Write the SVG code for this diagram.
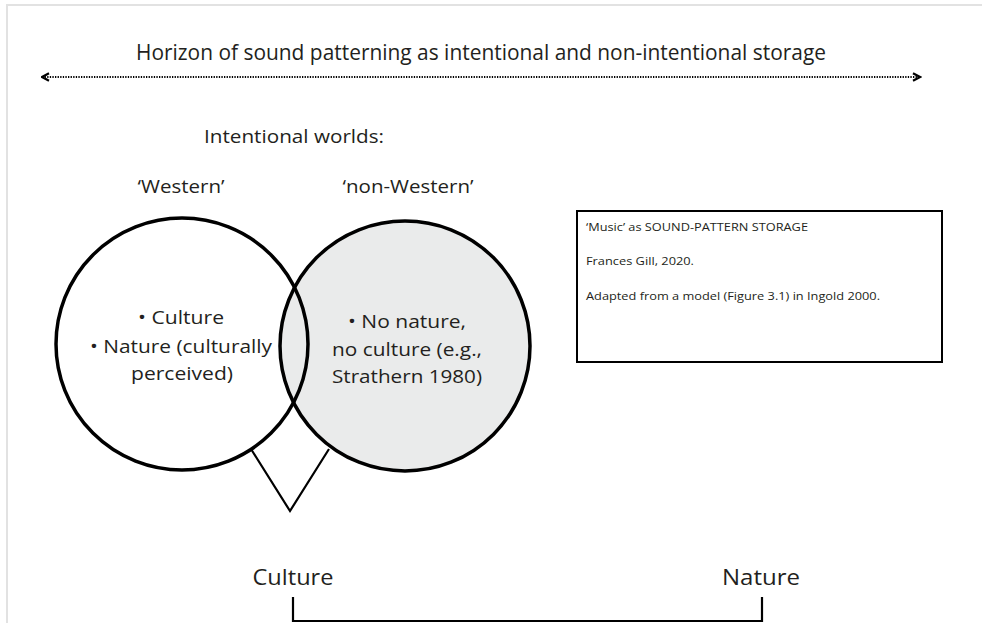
<svg xmlns="http://www.w3.org/2000/svg" width="982" height="623" viewBox="0 0 982 623">
  <defs>
    <style>
      .t { font-family: "Open Sans", "Liberation Sans", "DejaVu Sans", sans-serif; fill: #231f20; }
      .big { font-size: 19px; }
      .small { font-size: 11.5px; }
      .line { stroke: #000; fill: none; }
    </style>
    <marker id="chevL" viewBox="0 0 10 10" refX="1.5" refY="5" markerWidth="10" markerHeight="10" markerUnits="userSpaceOnUse" orient="auto">
      <path d="M8.5,1.2 L1.5,5 L8.5,8.8" fill="none" stroke="#000" stroke-width="2.2"/>
    </marker>
    <marker id="chevR" viewBox="0 0 10 10" refX="8.5" refY="5" markerWidth="10" markerHeight="10" markerUnits="userSpaceOnUse" orient="auto">
      <path d="M1.5,1.2 L8.5,5 L1.5,8.8" fill="none" stroke="#000" stroke-width="2.2"/>
    </marker>
  </defs>
  <rect width="982" height="623" fill="#fff"/>
  <path d="M7,623 V5 H982" fill="none" stroke="#e2e2e2" stroke-width="2"/>

  <g id="title">
    <text class="t" x="136" y="60" font-size="21" textLength="690" lengthAdjust="spacingAndGlyphs">Horizon of sound patterning as intentional and non-intentional storage</text>
  </g>

  <g id="connectors">
    <line class="line" x1="42" y1="77" x2="920" y2="77" stroke-width="1.8" stroke-dasharray="1.3,1.3" marker-start="url(#chevL)" marker-end="url(#chevR)"/>
    <polyline class="line" points="251,449 290,511 329,449" stroke-width="2.2"/>
    <polyline class="line" points="293,597 293,621 762,621 762,597" stroke-width="2.2"/>
  </g>

  <g id="intentional-worlds">
    <text class="t big" x="204" y="143" textLength="180" lengthAdjust="spacingAndGlyphs">Intentional worlds:</text>
  </g>

  <g id="non-western">
    <circle cx="405" cy="346" r="125" fill="#eaebeb" stroke="#000" stroke-width="3.5"/>
    <text class="t big" x="408" y="193" text-anchor="middle" textLength="131" lengthAdjust="spacingAndGlyphs">‘non-Western’</text>
    <text class="t big" x="407" y="328" text-anchor="middle" textLength="118" lengthAdjust="spacingAndGlyphs">• No nature,</text>
    <text class="t big" x="407" y="356" text-anchor="middle" textLength="150" lengthAdjust="spacingAndGlyphs">no culture (e.g.,</text>
    <text class="t big" x="407" y="383" text-anchor="middle" textLength="150" lengthAdjust="spacingAndGlyphs">Strathern 1980)</text>
  </g>

  <g id="western">
    <circle cx="182" cy="344" r="126" fill="none" stroke="#000" stroke-width="3.5"/>
    <text class="t big" x="181" y="193" text-anchor="middle" textLength="87" lengthAdjust="spacingAndGlyphs">‘Western’</text>
    <text class="t big" x="181" y="324" text-anchor="middle" textLength="86" lengthAdjust="spacingAndGlyphs">• Culture</text>
    <text class="t big" x="181" y="353" text-anchor="middle" textLength="182" lengthAdjust="spacingAndGlyphs">• Nature (culturally</text>
    <text class="t big" x="182" y="380" text-anchor="middle" textLength="102" lengthAdjust="spacingAndGlyphs">perceived)</text>
  </g>

  <g id="info-box">
    <rect x="577" y="211" width="365" height="151" fill="#fff" stroke="#000" stroke-width="2"/>
    <text class="t small" x="586" y="231" textLength="222" lengthAdjust="spacingAndGlyphs">‘Music’ as SOUND-PATTERN STORAGE</text>
    <text class="t small" x="586" y="265" textLength="108" lengthAdjust="spacingAndGlyphs">Frances Gill, 2020.</text>
    <text class="t small" x="586" y="300" textLength="294" lengthAdjust="spacingAndGlyphs">Adapted from a model (Figure 3.1) in Ingold 2000.</text>
  </g>

  <g id="culture">
    <text class="t" x="293" y="585" font-size="22" text-anchor="middle" textLength="81" lengthAdjust="spacingAndGlyphs">Culture</text>
  </g>
  <g id="nature">
    <text class="t" x="761" y="585" font-size="22" text-anchor="middle" textLength="78" lengthAdjust="spacingAndGlyphs">Nature</text>
  </g>
</svg>
